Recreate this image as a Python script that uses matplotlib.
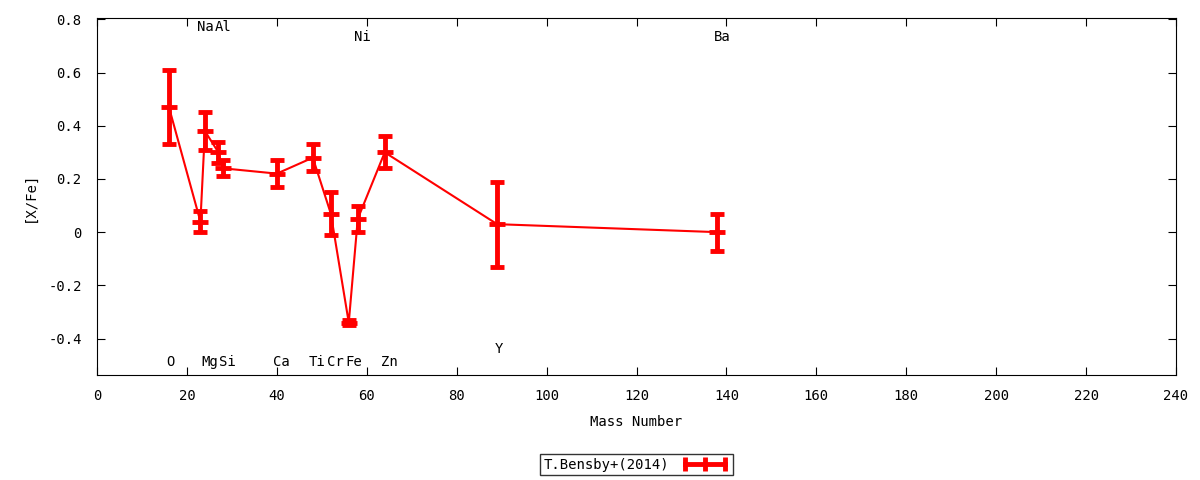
import matplotlib
matplotlib.use('Agg')
import matplotlib.pyplot as plt
from matplotlib.lines import Line2D
from matplotlib.ticker import FuncFormatter

plt.rcParams['font.family'] = ['DejaVu Sans Mono']
plt.rcParams['font.size'] = 10

elements = ['O', 'Na', 'Mg', 'Al', 'Si', 'Ca', 'Ti', 'Cr', 'Fe', 'Ni', 'Zn', 'Y', 'Ba']
mass = [16, 23, 24, 27, 28, 40, 48, 52, 56, 58, 64, 89, 138]
xfe = [0.47, 0.04, 0.38, 0.30, 0.24, 0.22, 0.28, 0.07, -0.34, 0.05, 0.30, 0.03, 0.00]
err = [0.14, 0.04, 0.07, 0.04, 0.03, 0.05, 0.05, 0.08, 0.01, 0.05, 0.06, 0.16, 0.07]
label_y = [-0.49, 0.77, -0.49, 0.77, -0.49, -0.49, -0.49, -0.49, -0.49, 0.733, -0.49, -0.44, 0.733]

fig = plt.figure(figsize=(12, 4.8), dpi=100)
ax = fig.add_axes([97/1200, 1 - 375/480, (1176-97)/1200, (375-18)/480])

ax.errorbar(mass, xfe, yerr=err, color='#ff0000', lw=1.5, elinewidth=3.5,
            capsize=5, capthick=3.5, marker='_', ms=12, mew=3.5)

# element names, nudged right a little like gnuplot does
for el, m, ly in zip(elements, mass, label_y):
    ax.annotate(el, (m, ly), xytext=(3 * len(el) - 1.5, 0), textcoords='offset pixels',
                ha='center', va='center')

ax.set_xlim(0, 240)
ax.set_ylim(-0.537, 0.805)
ax.set_xticks(range(0, 241, 20))
ax.set_yticks([-0.4, -0.2, 0, 0.2, 0.4, 0.6, 0.8])
ax.yaxis.set_major_formatter(FuncFormatter(lambda v, p: '0' if abs(v) < 1e-9 else f'{v:.1f}'))
ax.tick_params(direction='in', top=True, right=True, length=6, width=0.8)
ax.tick_params(axis='x', pad=10)
ax.tick_params(axis='y', pad=11)
ax.set_xlabel('Mass Number', labelpad=9)
ax.set_ylabel('[X/Fe]', labelpad=8)

handle = Line2D([], [], color='#ff0000', lw=3.5, marker='|', ms=10, mew=3.5)
leg = ax.legend([handle], ['T.Bensby+(2014)'], loc='center',
                bbox_to_anchor=(0.5, (480 - 464.5 - 105) / 357), frameon=True,
                fancybox=False, edgecolor='black', markerfirst=False,
                numpoints=3, handlelength=3.5, borderpad=0.25)
leg.get_frame().set_linewidth(1.0)

fig.savefig('out.png', dpi=100)
